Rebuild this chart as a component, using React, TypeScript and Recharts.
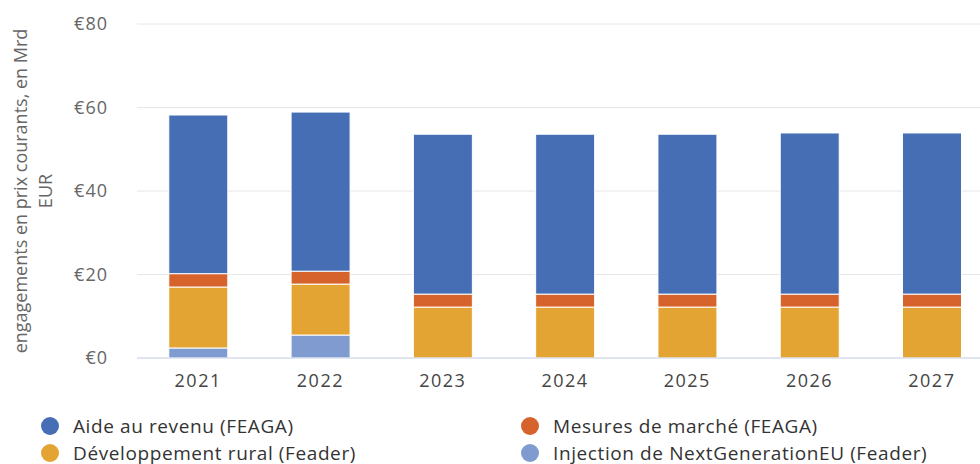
import { Bar, BarChart, CartesianGrid, Legend, XAxis, YAxis } from "recharts";

const years = ["2021", "2022", "2023", "2024", "2025", "2026", "2027"];
const nextGenEu = [2.4, 5.5, 0, 0, 0, 0, 0];
const ruralDev = [14.6, 12.2, 12.2, 12.2, 12.2, 12.2, 12.2];
const marketMeasures = [3.2, 3.1, 3.1, 3.1, 3.1, 3.1, 3.1];
const incomeSupport = [38.0, 38.1, 38.3, 38.3, 38.3, 38.6, 38.6];
const yTicks = [0, 20, 40, 60, 80];

const series = [
  { key: "ngeu", name: "Injection de NextGenerationEU (Feader)", color: "#7f9bcf" },
  { key: "rural", name: "Développement rural (Feader)", color: "#e4a433" },
  { key: "market", name: "Mesures de marché (FEAGA)", color: "#d6622c" },
  { key: "income", name: "Aide au revenu (FEAGA)", color: "#466eb4" },
];

// legend reads row by row, two columns
const legendOrder = ["income", "market", "rural", "ngeu"];

const data = years.map((year, i) => ({
  year,
  ngeu: nextGenEu[i],
  rural: ruralDev[i],
  market: marketMeasures[i],
  income: incomeSupport[i],
}));

const font = "'Open Sans', sans-serif";

function LegendBox() {
  return (
    <div
      style={{
        display: "grid",
        gridTemplateColumns: "480px 460px",
        paddingTop: 23,
        paddingLeft: 41,
        fontFamily: font,
        fontSize: 19,
        letterSpacing: 0.6,
        lineHeight: "22px",
        color: "#333",
      }}
    >
      {legendOrder.map((k) => {
        const s = series.find((x) => x.key === k)!;
        return (
          <div key={k} style={{ display: "flex", alignItems: "center", height: 27 }}>
            <span
              style={{
                width: 18,
                height: 18,
                borderRadius: 9,
                background: s.color,
                marginRight: 14,
                flexShrink: 0,
              }}
            />
            <span>{s.name}</span>
          </div>
        );
      })}
    </div>
  );
}

function YLabel({ viewBox }: any) {
  const cy = viewBox ? viewBox.y + viewBox.height / 2 : 191;
  return (
    <g>
      <text
        x={20}
        y={cy}
        transform={`rotate(-90, 20, ${cy})`}
        textAnchor="middle"
        dominantBaseline="central"
        fill="#666"
        fontSize={18}
        fontFamily={font}
      >
        engagements en prix courants, en Mrd
      </text>
      <text
        x={45}
        y={cy}
        transform={`rotate(-90, 45, ${cy})`}
        textAnchor="middle"
        dominantBaseline="central"
        fill="#666"
        fontSize={18}
        fontFamily={font}
      >
        EUR
      </text>
    </g>
  );
}

export default function App() {
  return (
    <div
      style={{
        position: "absolute",
        left: 0,
        top: 0,
        width: 980,
        height: 464,
        overflow: "hidden",
        background: "#fff",
      }}
    >
      <BarChart
        width={995}
        height={464}
        data={data}
        margin={{ top: 24, right: 2, bottom: 0, left: 0 }}
        barCategoryGap="26%"
      >
        <CartesianGrid vertical={false} stroke="#e6e6e6" />
        <XAxis
          dataKey="year"
          height={29}
          tickLine={false}
          axisLine={{ stroke: "#ccd6eb" }}
          tickSize={0}
          tickMargin={16}
          tick={{ fill: "#444", fontSize: 18, fontFamily: font, letterSpacing: 1.5 }}
        />
        <YAxis
          width={137}
          domain={[0, 80]}
          ticks={yTicks}
          tickFormatter={(v) => `€${v}`}
          axisLine={false}
          tickLine={false}
          tickSize={0}
          tickMargin={29}
          tick={{ fill: "#666", fontSize: 18, fontFamily: font, letterSpacing: 1 }}
          label={<YLabel />}
        />
        <Legend
          verticalAlign="bottom"
          content={<LegendBox />}
          wrapperStyle={{ left: 0, width: 980, bottom: -2 }}
        />
        {series.map((s) => (
          <Bar
            key={s.key}
            dataKey={s.key}
            name={s.name}
            stackId="a"
            fill={s.color}
            stroke="#fff"
            strokeWidth={1}
            isAnimationActive={false}
          />
        ))}
      </BarChart>
    </div>
  );
}
